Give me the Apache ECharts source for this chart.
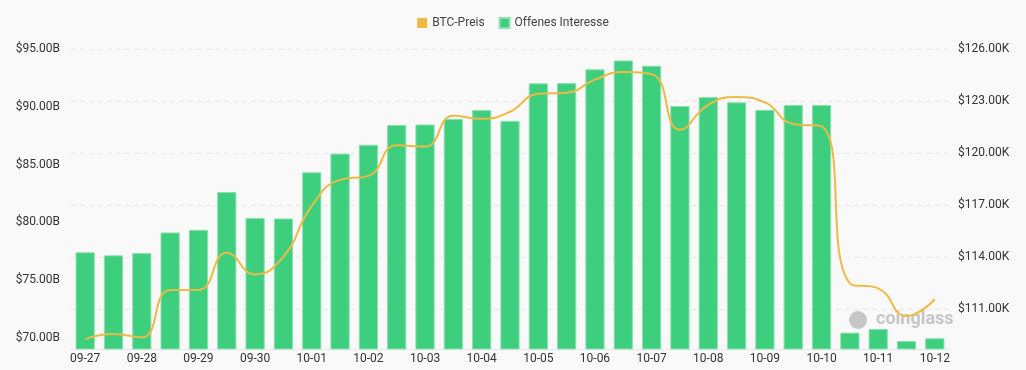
<!DOCTYPE html>
<html>
<head>
<meta charset="utf-8">
<script src="https://cdn.jsdelivr.net/npm/echarts@6/dist/echarts.min.js"></script>
<style>
html,body{margin:0;padding:0;background:#f9f9f9;}
#c{width:1026px;height:370px;}
</style>
</head>
<body>
<div id="c"></div>
<script>
const categories = [
  '09-27','09-27 12','09-28','09-28 12','09-29','09-29 12','09-30','09-30 12',
  '10-01','10-01 12','10-02','10-02 12','10-03','10-03 12','10-04','10-04 12',
  '10-05','10-05 12','10-06','10-06 12','10-07','10-07 12','10-08','10-08 12',
  '10-09','10-09 12','10-10','10-10 12','10-11','10-11 12','10-12'
];
// Open interest, billions USD
const openInterest = [
  77.41, 77.15, 77.35, 79.13, 79.36, 82.63, 80.39, 80.34,
  84.33, 85.95, 86.72, 88.43, 88.47, 88.96, 89.72, 88.78,
  92.03, 92.05, 93.24, 94.01, 93.55, 90.07, 90.84, 90.39,
  89.74, 90.16, 90.16, 70.47, 70.78, 69.74, 69.98
];
// BTC price, thousands USD
const btcPrice = [
  109.26, 109.55, 109.36, 112.10, 112.10, 114.25, 113.00, 114.02,
  116.95, 118.45, 118.68, 120.45, 120.37, 122.15, 121.97, 122.38,
  123.42, 123.48, 124.23, 124.67, 124.55, 121.34, 122.78, 123.23,
  122.92, 121.67, 121.53, 112.48, 112.19, 110.59, 111.56
];
const leftTicks = [70, 75, 80, 85, 90, 95];
const rightTicks = [111, 114, 117, 120, 123, 126];

const chart = echarts.init(document.getElementById('c'));
const font = 'Roboto, "Noto Sans", sans-serif';
chart.setOption({
  backgroundColor: '#f9f9f9',
  animation: false,
  legend: {
    top: 12, left: 'center',
    itemWidth: 10, itemHeight: 10, itemGap: 14,
    textStyle: {color: '#444', fontSize: 12, fontFamily: font},
    data: [
      {name: 'BTC-Preis', icon: 'rect'},
      {name: 'Offenes Interesse', icon: 'rect'}
    ]
  },
  grid: {left: 71, right: 77, top: 49, bottom: 21, containLabel: false},
  xAxis: {
    type: 'category',
    data: categories,
    axisLine: {show: true, lineStyle: {color: '#e8e8e8'}},
    axisTick: {show: false},
    axisLabel: {
      interval: 1, color: '#333', fontSize: 12, fontFamily: font, margin: 4,
      formatter: v => v.slice(0, 5)
    },
    splitLine: {show: false}
  },
  yAxis: [
    {
      type: 'value', position: 'left', min: 69.05, max: 95,
      axisLine: {show: false}, axisTick: {show: false, customValues: leftTicks},
      axisLabel: {customValues: leftTicks, color: '#333', fontSize: 12, fontFamily: font, margin: 11,
        formatter: v => '$' + v.toFixed(2) + 'B'},
      splitLine: {show: false}
    },
    {
      type: 'value', position: 'right', min: 108.69, max: 126,
      axisLine: {show: false}, axisTick: {show: false, customValues: rightTicks},
      axisLabel: {customValues: rightTicks, color: '#333', fontSize: 12, fontFamily: font, margin: 9,
        formatter: v => '$' + v.toFixed(2) + 'K'},
      splitLine: {show: true, lineStyle: {color: '#e9e9e9', type: [5, 4]}}
    }
  ],
  series: [
    {
      name: 'BTC-Preis', type: 'line', yAxisIndex: 1, z: 3,
      data: btcPrice, smooth: true, showSymbol: false, symbol: 'none',
      lineStyle: {color: '#efb946', width: 2},
      itemStyle: {color: '#efb946'}
    },
    {
      name: 'Offenes Interesse', type: 'bar', yAxisIndex: 0, z: 2,
      data: openInterest, barCategoryGap: '32%',
      itemStyle: {color: '#3ecf7e', borderColor: '#8fdfb2', borderWidth: 1}
    }
  ],
  graphic: [
    {
      type: 'text', left: 876, top: 310, z: 1,
      style: {text: 'coinglass', fill: 'rgba(180,180,180,0.75)', font: 'bold 18px ' + font}
    },
    {
      type: 'circle', shape: {cx: 858, cy: 320, r: 9}, z: 1,
      style: {fill: 'rgba(185,185,185,0.8)'}
    }
  ]
});
</script>
</body>
</html>
